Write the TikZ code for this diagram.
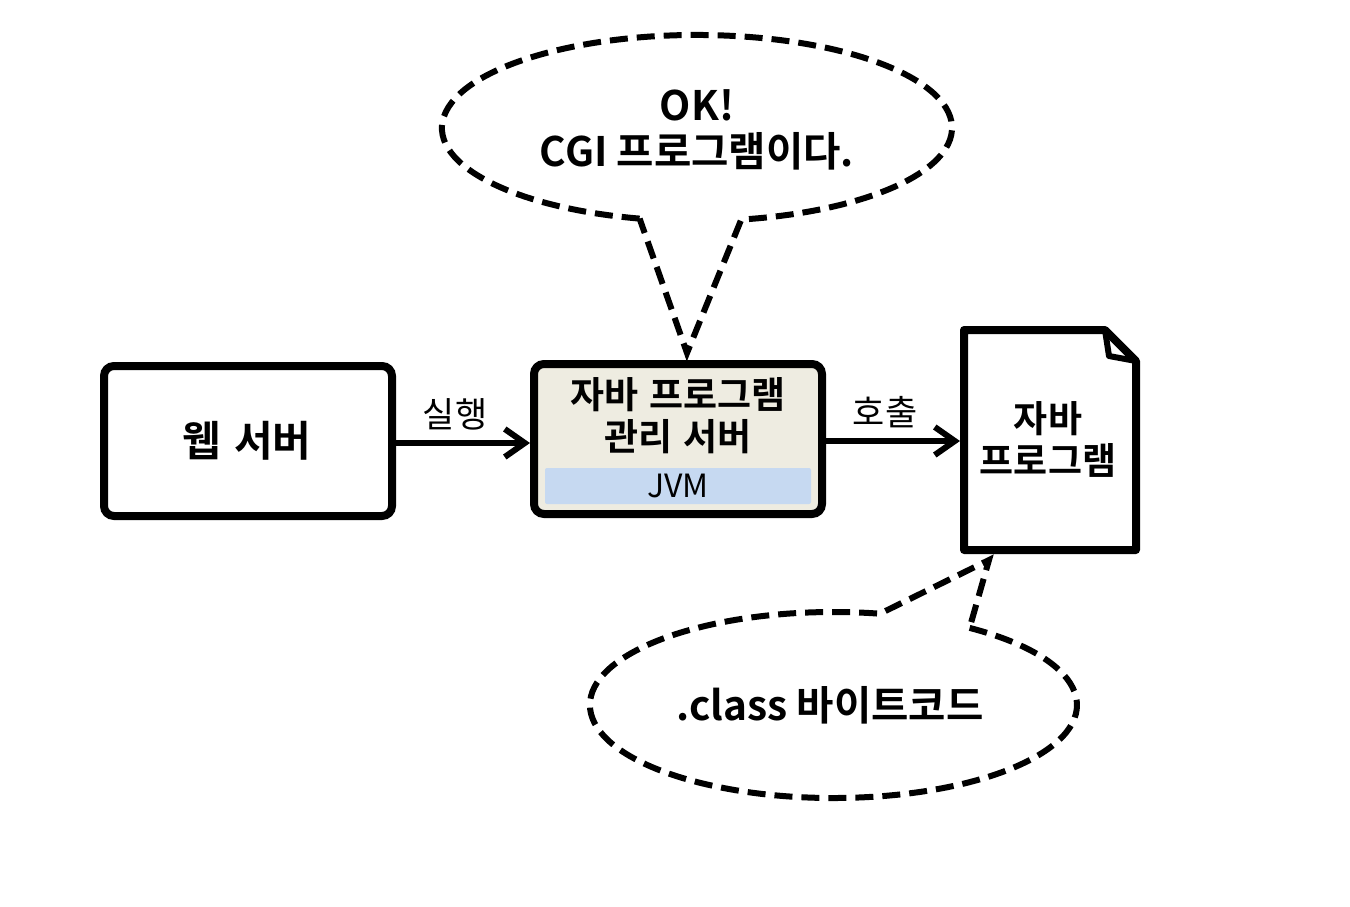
\documentclass[tikz,border=0pt]{standalone}
\usepackage{fontspec}
\setmainfont{Noto Sans CJK KR}[BoldFont={Noto Sans CJK KR Bold}]
\usetikzlibrary{arrows.meta}
\definecolor{beige}{HTML}{EEECE1}
\definecolor{jvmblue}{HTML}{C6D9F1}
\begin{document}
\begin{tikzpicture}[x=0.5pt,y=-0.5pt,
  box/.style={draw, line width=4pt, rounded corners=5pt, minimum width=144pt,
    minimum height=75pt, inner sep=0pt},
  conn/.style={line width=3pt, -{Straight Barb[length=10pt,width=14pt]}},
  bubble/.style={line width=3pt, dash pattern=on 9pt off 4.5pt},
  bigtxt/.style={font=\fontsize{21pt}{25pt}\selectfont\bfseries},
  midtxt/.style={font=\fontsize{18.5pt}{21pt}\selectfont\bfseries, align=center, inner sep=0pt},
  bubtxt/.style={font=\fontsize{20.3pt}{23pt}\selectfont\bfseries, align=center, inner sep=0pt},
  lbl/.style={font=\fontsize{17.5pt}{20pt}\selectfont, inner sep=0pt}]
\useasboundingbox[fill=white] (0,0) rectangle (1350,906);

% web server
\node[box] (web) at (248,441) {};
\node[bigtxt] (webt) at (247,441) {웹\hspace{0.08em} 서버};

% middle box
\node[box, fill=beige] (mid) at (678,439) {};
\node[midtxt] (midt) at (678,416) {자바\hspace{0.05em} 프로그램\\관리\hspace{0.05em} 서버};
\node[fill=jvmblue, minimum width=133pt, minimum height=18pt, rounded corners=1pt,
  inner sep=0pt, font=\fontsize{16pt}{18pt}\selectfont] (jvm) at (678,486) {JVM};

% document
\node[minimum width=86pt, minimum height=110pt, inner sep=0pt, outer sep=0pt] (doc) at (1050,440) {};
\coordinate (fold1) at (1105,330);
\coordinate (fold2) at (1136,361);
\draw[line width=4pt, line join=round] (doc.north west) -- (fold1) -- (fold2)
  -- (doc.south east) -- (doc.south west) -- cycle;
\draw[line width=3pt, line join=round] (fold1) -- (1109,356) -- (fold2);
\node[midtxt] (doct) at (1048,439) {자바\\프로그램};

% connectors
\draw[conn] ([yshift=-1pt]web.east) -- ([yshift=-1pt]web.east -| mid.west) node[lbl, midway, above=5pt, xshift=-4pt] (l1) {실행};
\draw[conn] ([yshift=-1pt]mid.east) -- ([yshift=-1pt,xshift=-2pt]mid.east -| doc.west) node[lbl, midway, above=5pt, xshift=-4pt] (l2) {호출};

% top bubble
\coordinate (tip1) at (687,353);
\draw[bubble] (639.6,218.6) arc[start angle=-103, end angle=-440, x radius=127.5pt, y radius=46.5pt]
  -- (tip1) -- cycle;
\node[bubtxt] (b1) at (697,130) {OK!\\CGI 프로그램이다.};

% bottom bubble
\coordinate (tip2) at (989,560);
\draw[bubble] (969.6,627.9) arc[start angle=-304, end angle=-641, x radius=121.75pt, y radius=46.5pt]
  -- (tip2) -- cycle;
\node[bubtxt] (b2) at (830,705) {.class 바이트코드};
\end{tikzpicture}
\end{document}
